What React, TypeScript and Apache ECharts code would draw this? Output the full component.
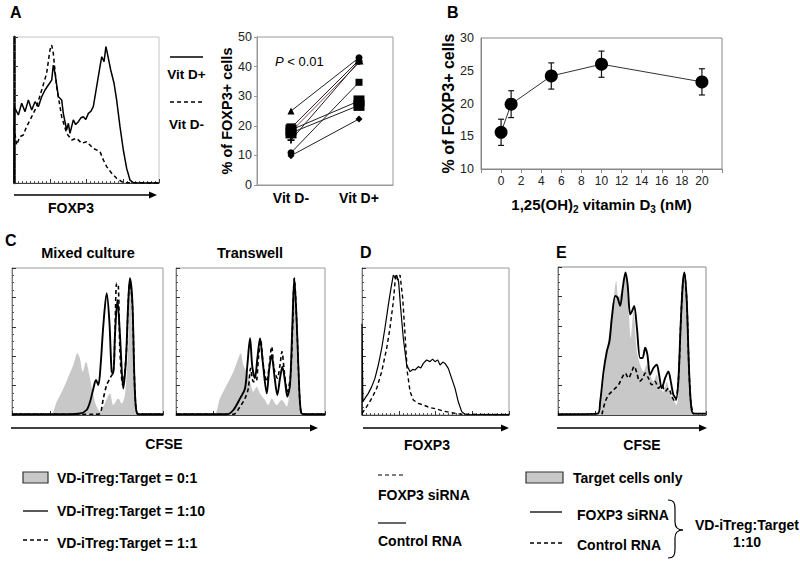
import React, { useEffect, useRef } from 'react';
import * as echarts from 'echarts';

const FONT = "'Liberation Sans', Arial, Helvetica, sans-serif";

// ---------- Panel A: FOXP3 histogram (x, y in % of frame) ----------
const aVitDPlus: number[][] = [[0,0],[0.3,52],[3,46.6],[5.3,54.6],[7.6,48.9],[9.9,56.8],[12.2,50],[14.5,55.7],[16.8,52.3],[19.1,59.1],[21.4,63.7],[23.7,67.1],[26,70.5],[27.1,80.8],[28.3,75.1],[30.6,59.1],[32.9,56.8],[34,47.7],[36.3,36.3],[37.5,40.9],[38.6,34],[40.9,43.2],[42.5,40],[44.4,42],[46,44.5],[47.8,45.4],[49.5,43.5],[51.3,47.7],[53,49],[54.7,52.3],[57,66],[59.3,79.7],[60.5,86.5],[62.1,83.1],[63.4,93.4],[64.6,87.7],[66.7,77.4],[69,68.3],[70.8,56.8],[73.1,38.6],[75.4,22.6],[77.7,10],[80,2],[82.3,0.2],[100,0]];
const aVitDMinus: number[][] = [[0,38.6],[1.8,26],[4.1,31.7],[6.4,32.9],[8.7,38.6],[12.2,45.4],[15.6,52.3],[19.1,63.7],[22.5,75.1],[24.8,91.1],[26,94.5],[27.1,88.8],[29.4,66],[32.9,45.4],[36.3,34],[39.8,29.5],[43.2,30.6],[46.7,27.2],[50.1,28.3],[54.7,23.7],[59.3,21.5],[61.6,15.8],[63.9,11.2],[67.4,6.6],[70.8,3.2],[74.3,0.9],[77.7,0.2],[100,0]];

// ---------- Panel A: paired donors ----------
const pairedCategories = ['Vit D-', 'Vit D+'];
const pairedBefore = [25, 19.3, 18, 15.2, 10.9, 9.9, 17.6, 18.6];
const pairedAfter = [43, 42.2, 41.3, 41.8, 34.7, 22.3, 26.9, 28.4];

// ---------- Panel B: dose response ----------
const doses = [0, 1, 5, 10, 20];
const foxp3Mean = [15.6, 19.9, 24.2, 26.0, 23.3];
const foxp3Err = [2.0, 2.05, 2.0, 2.0, 2.0];

// ---------- Panel C: CFSE, mixed culture ----------
const cMixTarget: number[][] = [[0,0],[25.2,0],[29.6,9],[34,18],[37.3,26],[40.6,34],[43.3,42],[45,38.5],[46.8,29.5],[49,36.3],[51.2,27.2],[53.9,13.6],[56,5.7],[58.3,2.3],[60.5,5.7],[64.9,14.7],[67.1,6.8],[70.4,11.3],[72.6,7.9],[74.8,13.6],[77,47.6],[78.1,93],[79.9,47.6],[81.5,6.8],[83,0],[100,0]];
const cMix110: number[][] = [[0,0.5],[36.2,0.5],[45,1],[49.4,3.4],[51.7,9],[53.9,18],[55.6,23.8],[57.2,20.4],[58.7,34],[60.5,61.2],[62.7,82.8],[64.5,63.5],[66,29.5],[67.1,28.3],[68.2,54.4],[69.8,78.2],[71.5,54.4],[73.7,18],[75.5,38.5],[77,77.1],[78.1,93],[79.7,77.1],[81,27.2],[82.1,4.5],[83.7,0.5],[100,0.5]];
const cMix11: number[][] = [[0,0.5],[55,0.5],[58.3,1],[60.5,11.3],[62.7,20.4],[64.9,25],[67.1,29.5],[68.2,56.7],[69.3,89.6],[70.4,88.4],[71.5,43.1],[73.3,20.4],[75.5,38.5],[77,77.1],[78.1,91.8],[79.7,75],[81,27],[82.1,4.5],[83.7,0.5],[100,0.5]];

// ---------- Panel C: CFSE, transwell ----------
const cTwTarget: number[][] = [[0,0],[25,0],[29.5,11.3],[34,20.4],[38.5,29.5],[41.8,38.5],[43.4,42],[45.2,34],[47.4,29.5],[49.7,22.7],[51.9,15.9],[54.1,19.3],[56.4,14.7],[59.7,10.2],[61.9,6.8],[64.2,11.3],[67.6,6.8],[70.9,10.2],[74.3,5.7],[77.6,38.5],[79.2,93],[81,43.1],[83.2,2.3],[85.5,0],[100,0]];
const cTw110: number[][] = [[0,0.5],[34,0.5],[38.5,3.4],[43,11.3],[46.3,18],[47.9,34],[49.7,52.2],[51.2,32.9],[53,25],[54.6,38.5],[56.4,52.2],[58.2,36.3],[60.9,14.7],[62.6,31.7],[64.2,40.8],[66,27.2],[68,13.6],[69.8,25],[71.4,32.9],[73.2,22.7],[74.7,12.5],[76.5,20.4],[78.1,61.2],[79.4,93],[81,63.5],[82.6,20.4],[83.9,1.8],[85.9,0.5],[100,0.5]];
const cTw11: number[][] = [[0,0.5],[38.5,0.5],[43,5.7],[46.3,11.3],[48.5,18],[50.1,31.7],[51.9,22.7],[53.7,22.7],[55.3,38.5],[56.8,51],[58.6,34],[60.9,22.7],[62.6,34],[64.2,46.5],[65.8,31.7],[68,25],[69.8,34],[71.1,43.1],[72.7,29.5],[74.7,15.9],[76.9,27.2],[78.3,61.2],[79.4,93],[81,63.5],[82.6,20.4],[83.9,1.8],[85.9,0.5],[100,0.5]];

// ---------- Panel D: FOXP3 after siRNA ----------
const dControl: number[][] = [[0,0],[0,62],[0.6,9],[2,11.3],[4.3,14.7],[6.6,19.3],[8.8,24.9],[11.1,34],[13.4,45.4],[15.6,59],[17.9,74.8],[19.7,86.2],[21.3,95.2],[22.7,93],[23.6,95.2],[24.9,90.7],[26.3,72.6],[28.1,52.2],[30.4,34],[32.7,29.5],[34.5,31],[36.1,30.6],[38.3,32.9],[40,32],[41.7,35.1],[43.9,37.4],[46.3,36.3],[48,38],[49.7,36.3],[51.5,37.5],[53.1,34],[55,36],[56.5,35.1],[58.7,31.7],[61,24.9],[63.3,18.1],[65.5,9],[67.8,2.3],[70.1,0.5],[100,0.3]];
const dSiRNA: number[][] = [[0,1],[3.2,5.7],[6.6,11.3],[10,18.1],[13.4,29.5],[16.8,45.4],[19,59],[21.3,77.1],[22.9,95.2],[24.3,91.8],[25.9,95.2],[27.7,79.4],[29.3,54.4],[30.8,29.5],[32.7,15.9],[34.9,10.2],[38.3,7.9],[41.7,6.8],[46.3,5],[50.8,4.1],[55.3,2.7],[59.9,1.8],[64.4,0.9],[68.9,0.5],[100,0.3]];

// ---------- Panel E: CFSE with siRNA-treated VD-iTreg ----------
const eTarget: number[][] = [[0,0],[26.3,0],[28.5,6.8],[30.8,22.7],[33,43.1],[35.3,61.2],[37.5,77.1],[39.3,90.7],[40.9,79.4],[43.1,83.9],[45.4,95.2],[47.6,72.6],[49.2,52.2],[51,70.3],[53.3,43.1],[55.5,34],[57.8,29.5],[60,34],[62.2,27.2],[64.5,22.7],[66.7,27.2],[69,18.1],[71.2,15.9],[73.5,22.7],[75.7,13.6],[78,10.2],[80.2,6.8],[82.5,38.5],[84.3,83.9],[85.4,95.2],[87,72.6],[88.8,20.4],[90.3,2.3],[91.5,0],[100,0]];
const eSiRNA: number[][] = [[0,0.5],[26.7,0.9],[28.5,9],[30.8,29.5],[33,43.1],[34.8,49.9],[36.4,65.8],[38.7,80.5],[40.2,79.4],[42,73.7],[43.8,86.2],[45.6,96.4],[47,88.4],[48.8,68],[50.1,70.3],[51.5,73.7],[53.3,59],[55.5,38.5],[57.1,38.5],[58.9,45.4],[60.4,40.8],[62.2,27.2],[64.5,31.7],[66.7,34],[68.3,27.2],[70.1,18.1],[72.4,24.9],[74.6,29.5],[76.2,22.7],[78,13.6],[79.8,11.3],[81.3,22.7],[82.9,61.2],[84.3,88.4],[85.4,96.4],[87,77.1],[88.5,31.7],[89.9,6.8],[91.5,1.1],[100,0.9]];
const eControl: number[][] = [[29.7,0.5],[31.9,9],[34.2,13.6],[36.4,15.9],[38.7,18.1],[40.9,20.4],[43.1,24.9],[45.4,28.3],[47.6,24.9],[49.9,29.5],[51.5,32.9],[53.3,28.3],[55.1,22.7],[57.3,24.9],[58.9,28.3],[61.1,24.9],[63.4,20.4],[65.6,22.7],[67.9,18.1],[70.1,20.4],[72.4,15.9],[74.6,18.1],[76.9,12.5],[79.1,9],[81.3,22.7],[82.9,61.2],[84.3,88.4],[85.4,95.2],[87,77.1],[88.5,31.7],[89.9,6.8],[91.5,1.1]];

const PLUS = 'path://M3,0H5V3H8V5H5V8H3V5H0V3H3Z';
const pairedSymbols = ['triangle', 'rect', 'circle', PLUS, 'circle', 'diamond', 'rect', 'rect'];
const pairedEndSymbols = ['circle', 'triangle', 'diamond', 'circle', 'rect', 'diamond', 'rect', 'rect'];
const pairedSizes = [7, 9, 3, 7, 7, 7, 11, 11];
const GRAY = '#c8c8c8';

function txt(text: string, x: number, y: number, size = 13.5, align = 'left', weight = 'bold', extra: any = {}) {
  return {
    type: 'text', x, y, silent: true, z: 100,
    style: {
      text, fill: '#000', font: `${weight} ${size}px ${FONT}`,
      textAlign: align, align, textVerticalAlign: 'middle', verticalAlign: 'middle', ...extra,
    },
  };
}
function seg(x1: number, y1: number, x2: number, y2: number, dashed = false, w = 1.3) {
  return {
    type: 'line', silent: true, z: 100,
    shape: { x1, y1, x2, y2 },
    style: { stroke: '#000', lineWidth: w, lineDash: dashed ? [4, 3] : null },
  };
}
function arrow(x1: number, x2: number, y: number) {
  return [
    seg(x1, y, x2 - 6, y, false, 1.5),
    { type: 'polygon', silent: true, z: 100, shape: { points: [[x2 - 8, y - 3.5], [x2, y], [x2 - 8, y + 3.5]] }, style: { fill: '#000' } },
  ];
}
function bez(x1: number, y1: number, cpx1: number, cpy1: number, cpx2: number, cpy2: number, x2: number, y2: number) {
  return { type: 'bezierCurve', silent: true, z: 100, shape: { x1, y1, cpx1, cpy1, cpx2, cpy2, x2, y2 }, style: { stroke: '#000', lineWidth: 1.2, fill: null } };
}

function histX(gridIndex: number) {
  return {
    gridIndex, type: 'value', min: 0, max: 100, interval: 25,
    axisLine: { show: true, onZero: false, lineStyle: { color: '#444', width: 1 } },
    axisTick: { show: true, inside: true, length: 4, lineStyle: { color: '#333' } },
    minorTick: { show: true, splitNumber: 9, length: 2, lineStyle: { color: '#555' } },
    axisLabel: { show: false }, splitLine: { show: false }, minorSplitLine: { show: false },
  };
}
function histY(gridIndex: number, leftWidth = 1, leftColor = '#777') {
  return {
    gridIndex, type: 'value', min: 0, max: 100, interval: 20,
    axisLine: { show: true, onZero: false, lineStyle: { color: leftColor, width: leftWidth } },
    axisTick: { show: true, inside: true, length: 4, lineStyle: { color: '#333' } },
    minorTick: { show: true, splitNumber: 4, length: 2, lineStyle: { color: '#555' } },
    axisLabel: { show: false }, splitLine: { show: false }, minorSplitLine: { show: false },
  };
}
function curve(idx: number, data: number[][], dashed: boolean, smooth: number | boolean, width = 1.5) {
  return {
    type: 'line', xAxisIndex: idx, yAxisIndex: idx, data, symbol: 'none', smooth, silent: true, z: 4,
    lineStyle: { color: '#000', width, type: dashed ? [4, 3] : 'solid' },
  };
}
function area(idx: number, data: number[][], smooth: number | boolean) {
  return {
    type: 'line', xAxisIndex: idx, yAxisIndex: idx, data, symbol: 'none', smooth, silent: true, z: 2,
    lineStyle: { width: 0, color: GRAY }, areaStyle: { color: GRAY, opacity: 1 },
  };
}

export default function App() {
  const ref = useRef<HTMLDivElement>(null);
  useEffect(() => {
    if (!ref.current) return;
    const chart = echarts.init(ref.current, null, { renderer: 'svg' });
    const frame = { show: true, borderColor: '#999', borderWidth: 1, backgroundColor: 'transparent' };
    const grid = [
      { left: 14, top: 37, width: 145, height: 146, ...frame, borderColor: '#c4c4c4' },
      { left: 257, top: 37, width: 136, height: 148, ...frame },
      { left: 481, top: 38, width: 241, height: 131, ...frame, borderColor: '#888' },
      { left: 12, top: 268, width: 151, height: 147, ...frame },
      { left: 176, top: 268, width: 149, height: 147, ...frame },
      { left: 362, top: 268, width: 147, height: 147, ...frame },
      { left: 558, top: 267, width: 148, height: 148, ...frame, borderColor: '#888' },
    ];

    const xAxis: any[] = [
      histX(0),
      {
        gridIndex: 1, type: 'category', data: pairedCategories, boundaryGap: true,
        axisLine: { show: true, onZero: false, lineStyle: { color: '#999' } }, axisTick: { show: false },
        axisLabel: { fontSize: 14, fontWeight: 'bold', color: '#000', fontFamily: FONT, margin: 6 },
      },
      {
        gridIndex: 2, type: 'value', min: -2, max: 22, interval: 2,
        axisLine: { show: true, onZero: false, lineStyle: { color: '#888' } },
        axisTick: { show: true, length: 4, lineStyle: { color: '#888' } },
        axisLabel: { fontSize: 12, color: '#222', fontFamily: FONT, margin: 6, formatter: (v: number) => (v < 0 || v > 20 ? '' : String(v)) },
        splitLine: { show: false },
        name: '1,25(OH){sub|2} vitamin D{sub|3} (nM)', nameLocation: 'middle', nameGap: 25,
        nameTextStyle: {
          fontSize: 15, fontWeight: 'bold', color: '#000', fontFamily: FONT, lineHeight: 20,
          rich: { sub: { fontSize: 10, fontWeight: 'bold', fontFamily: FONT, lineHeight: 10, verticalAlign: 'bottom' } },
        },
      },
      histX(3), histX(4), histX(5), histX(6),
    ];
    const yAxis: any[] = [
      histY(0, 2.5, '#000'),
      {
        gridIndex: 1, type: 'value', min: 0, max: 50, interval: 10,
        axisLine: { show: true, onZero: false, lineStyle: { color: '#999' } },
        axisTick: { show: true, length: 3, lineStyle: { color: '#999' } },
        axisLabel: { fontSize: 12.5, color: '#222', fontFamily: FONT, margin: 5 },
        splitLine: { show: false },
        name: '% of FOXP3+ cells', nameLocation: 'middle', nameRotate: 90, nameGap: 22,
        nameTextStyle: { fontSize: 14.5, fontWeight: 'bold', color: '#000', fontFamily: FONT },
      },
      {
        gridIndex: 2, type: 'value', min: 10, max: 30, interval: 5,
        axisLine: { show: true, onZero: false, lineStyle: { color: '#888' } },
        axisTick: { show: false },
        axisLabel: { fontSize: 12.5, color: '#222', fontFamily: FONT, margin: 7 },
        splitLine: { show: false },
        name: '% of FOXP3+ cells', nameLocation: 'middle', nameRotate: 90, nameGap: 24,
        nameTextStyle: { fontSize: 16, fontWeight: 'bold', color: '#000', fontFamily: FONT },
      },
      histY(3), histY(4), histY(5), histY(6),
    ];

    const pairedSeries = pairedBefore.map((b, i) => ({
      type: 'line', xAxisIndex: 1, yAxisIndex: 1, silent: true, z: 5,
      data: [
        { value: b, symbol: pairedSymbols[i], symbolSize: pairedSizes[i] },
        { value: pairedAfter[i], symbol: pairedEndSymbols[i], symbolSize: pairedSizes[i] },
      ],
      lineStyle: { color: i === 2 ? '#8a4646' : '#222', width: 1 },
      itemStyle: { color: '#000' },
    }));

    const series: any[] = [
      curve(0, aVitDPlus, false, false, 1.5),
      curve(0, aVitDMinus, true, false, 1.5),
      ...pairedSeries,
      {
        type: 'custom', xAxisIndex: 2, yAxisIndex: 2, silent: true, z: 4,
        data: doses.map((d, i) => [d, foxp3Mean[i] - foxp3Err[i], foxp3Mean[i] + foxp3Err[i]]),
        encode: { x: 0, y: [1, 2] },
        renderItem: (params: any, api: any) => {
          const x = api.value(0);
          const lo = api.coord([x, api.value(1)]);
          const hi = api.coord([x, api.value(2)]);
          const st = { stroke: '#111', lineWidth: 1.2 };
          return {
            type: 'group',
            children: [
              { type: 'line', shape: { x1: hi[0], y1: hi[1], x2: lo[0], y2: lo[1] }, style: st },
              { type: 'line', shape: { x1: hi[0] - 3, y1: hi[1], x2: hi[0] + 3, y2: hi[1] }, style: st },
              { type: 'line', shape: { x1: lo[0] - 3, y1: lo[1], x2: lo[0] + 3, y2: lo[1] }, style: st },
            ],
          };
        },
      },
      {
        type: 'line', xAxisIndex: 2, yAxisIndex: 2, silent: true, z: 5,
        data: doses.map((d, i) => [d, foxp3Mean[i]]),
        symbol: 'circle', symbolSize: 13,
        lineStyle: { color: '#333', width: 1 }, itemStyle: { color: '#000' },
      },
      area(3, cMixTarget, 0.3),
      curve(3, cMix11, true, 0.3, 1.6),
      curve(3, cMix110, false, 0.3, 1.9),
      area(4, cTwTarget, 0.3),
      curve(4, cTw11, true, 0.3, 1.6),
      curve(4, cTw110, false, 0.3, 1.9),
      curve(5, dSiRNA, true, false, 1.4),
      curve(5, dControl, false, false, 1.2),
      area(6, eTarget, 0.3),
      curve(6, eControl, true, 0.3, 1.6),
      curve(6, eSiRNA, false, 0.3, 1.9),
    ];

    const graphic: any[] = [
      txt('A', 10, 12, 16, 'left'),
      txt('B', 447, 12, 16, 'left'),
      txt('C', 5, 240, 16, 'left'),
      txt('D', 360, 252, 16, 'left'),
      txt('E', 556, 252, 16, 'left'),
      // panel A legend
      seg(170, 57, 203, 57, false, 1.4),
      txt('Vit D+', 186.5, 74, 13.5, 'center'),
      seg(170, 102, 203, 102, true, 1.4),
      txt('Vit D-', 186.5, 124, 13.5, 'center'),
      ...arrow(14, 157, 195),
      txt('FOXP3', 71, 208, 14, 'center'),
      {
        type: 'text', x: 275, y: 61, silent: true, z: 100,
        style: {
          text: '{i|P} < 0.01', fill: '#000', fontSize: 13, fontFamily: FONT,
          textVerticalAlign: 'middle', verticalAlign: 'middle',
          rich: { i: { fontStyle: 'italic', fontSize: 13, fontFamily: FONT } },
        },
      },
      // panel C
      txt('Mixed culture', 88, 253, 14.5, 'center'),
      txt('Transwell', 250, 253, 14.5, 'center'),
      ...arrow(11, 318, 428),
      txt('CFSE', 164, 444, 14, 'center'),
      // panel D
      ...arrow(363, 509, 428),
      txt('FOXP3', 427, 445, 14, 'center'),
      // panel E
      ...arrow(557, 707, 428),
      txt('CFSE', 642, 445, 14, 'center'),
      // bottom-left legend
      { type: 'rect', silent: true, z: 100, shape: { x: 23, y: 472, width: 25, height: 11 }, style: { fill: GRAY, stroke: '#333', lineWidth: 1.2 } },
      txt('VD-iTreg:Target = 0:1', 57, 478, 14),
      seg(23, 511, 48, 511, false, 1.3),
      txt('VD-iTreg:Target = 1:10', 57, 511, 14),
      seg(23, 540, 48, 540, true, 1.3),
      txt('VD-iTreg:Target = 1:1', 57, 543, 14),
      // D legend
      seg(378, 475, 406, 475, true, 1.2),
      txt('FOXP3 siRNA', 378, 495, 14),
      seg(378, 523, 406, 523, false, 1.2),
      txt('Control RNA', 378, 541, 14),
      // E legend
      { type: 'rect', silent: true, z: 100, shape: { x: 526, y: 472, width: 37, height: 11 }, style: { fill: GRAY, stroke: '#333', lineWidth: 1.2 } },
      txt('Target cells only', 573, 478, 14),
      seg(530, 512, 562, 512, false, 1.3),
      txt('FOXP3 siRNA', 577, 515, 14),
      seg(530, 543, 562, 543, true, 1.3),
      txt('Control RNA', 577, 545, 14),
      bez(668, 500, 674, 500, 675, 503, 675, 509),
      seg(675, 509, 675, 522, false, 1.2),
      bez(675, 522, 675, 527, 678, 530, 683, 530),
      bez(683, 530, 678, 530, 675, 533, 675, 538),
      seg(675, 538, 675, 549, false, 1.2),
      bez(675, 549, 675, 555, 674, 558, 668, 558),
      txt('VD-iTreg:Target', 747, 525, 14, 'center'),
      txt('1:10', 747, 542, 14, 'center'),
    ];

    chart.setOption({
      animation: false,
      backgroundColor: '#ffffff',
      textStyle: { fontFamily: FONT },
      grid, xAxis, yAxis, series, graphic,
    });
    return () => chart.dispose();
  }, []);
  return <div ref={ref} style={{ position: 'fixed', left: 0, top: 0, width: 800, height: 565, background: '#fff' }} />;
}
